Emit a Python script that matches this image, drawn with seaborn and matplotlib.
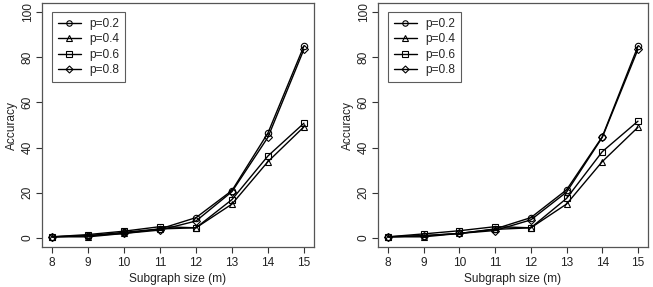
import pandas as pd
import seaborn as sns
import matplotlib.pyplot as plt

# subgraph sizes on the x axis
sizes = [8, 9, 10, 11, 12, 13, 14, 15]
groups = ['p=0.2', 'p=0.4', 'p=0.6', 'p=0.8']

# accuracy values, left panel
left_p02 = [0.5, 1.0, 2.5, 4.0, 9.0, 21.0, 46.5, 85.0]
left_p04 = [0.5, 0.5, 2.0, 4.0, 4.5, 15.0, 33.8, 49.2]
left_p06 = [0.5, 1.5, 3.0, 5.0, 4.5, 17.0, 36.3, 50.8]
left_p08 = [0.5, 1.0, 2.0, 3.5, 7.5, 20.5, 44.6, 83.5]

# accuracy values, right panel
right_p02 = [0.5, 1.0, 2.0, 4.0, 9.0, 21.3, 44.8, 84.9]
right_p04 = [0.5, 0.5, 2.0, 3.8, 4.5, 15.0, 33.8, 49.0]
right_p06 = [0.5, 1.8, 3.2, 5.0, 4.5, 17.5, 38.2, 51.7]
right_p08 = [0.5, 1.0, 2.0, 3.3, 8.0, 20.3, 44.5, 83.5]

marker_map = {'p=0.2': 'o', 'p=0.4': '^', 'p=0.6': 's', 'p=0.8': 'D'}


def to_frame(series):
    rows = []
    for name, vals in zip(groups, series):
        for m, v in zip(sizes, vals):
            rows.append({'size': m, 'acc': v, 'p': name})
    return pd.DataFrame(rows)


sns.set_style('white')
plt.rcParams['font.family'] = ['Liberation Sans', 'DejaVu Sans']
fs = 8.6

fig = plt.figure(figsize=(6.53, 2.87), dpi=100)
ax1 = fig.add_axes([0.0643, 0.1394, 0.4166, 0.8501])
ax2 = fig.add_axes([0.5789, 0.1394, 0.4134, 0.8501])

panels = [(ax1, [left_p02, left_p04, left_p06, left_p08]),
          (ax2, [right_p02, right_p04, right_p06, right_p08])]

for ax, series in panels:
    df = to_frame(series)
    sns.lineplot(data=df, x='size', y='acc', style='p', style_order=groups,
                 markers=marker_map, dashes=False, color='black', lw=1.0,
                 legend=False, ax=ax)
    lines = ax.get_lines()
    for ln, g in zip(lines, groups):
        ln.set_markerfacecolor('none')
        ln.set_markeredgecolor('black')
        ln.set_markeredgewidth(0.8)
        ln.set_markersize(4.6 if g != 'p=0.8' else 4.2)
    ax.set_xlim(7.72, 15.28)
    ax.set_ylim(-4, 104)
    ax.set_xticks(sizes)
    ax.set_yticks([0, 20, 40, 60, 80, 100])
    ax.set_xlabel('Subgraph size (m)', fontsize=fs, color='#222222',
                  labelpad=3)
    ax.set_ylabel('Accuracy', fontsize=fs, color='#222222', labelpad=2.5)
    ax.tick_params(axis='both', which='both', direction='out', length=4.5,
                   width=0.8, color='#333333', labelsize=fs,
                   labelcolor='#222222', bottom=True, left=True)
    ax.tick_params(axis='x', pad=2.5)
    ax.tick_params(axis='y', pad=1.5)
    plt.setp(ax.get_yticklabels(), rotation=90, va='center')
    for s in ax.spines.values():
        s.set_color('#555555')
        s.set_linewidth(0.9)
    leg = ax.legend(lines, groups, loc='upper left', fontsize=fs,
                    handlelength=1.9, frameon=True, fancybox=False,
                    borderpad=0.5, labelspacing=0.28, handletextpad=0.7,
                    markerscale=0.85,
                    borderaxespad=0, bbox_to_anchor=(0.037, 0.963))
    leg.get_frame().set_edgecolor('#333333')
    leg.get_frame().set_linewidth(0.8)

fig.savefig('out.png', dpi=100)
